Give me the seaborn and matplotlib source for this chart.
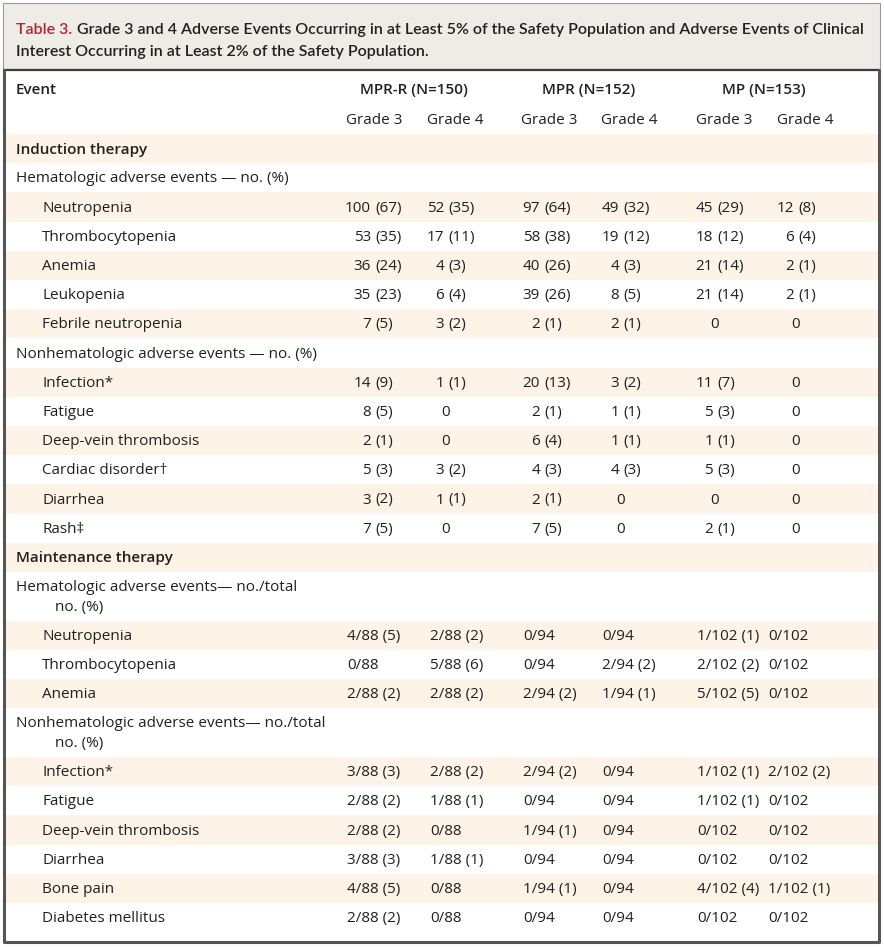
import matplotlib
matplotlib.use("Agg")
import matplotlib.pyplot as plt
from matplotlib import font_manager
import seaborn as sns

# Table content
title_tag = "Table 3."
title_lines = [
    "Grade 3 and 4 Adverse Events Occurring in at Least 5% of the Safety Population and Adverse Events of Clinical",
    "Interest Occurring in at Least 2% of the Safety Population.",
]
arms = ["MPR-R (N=150)", "MPR (N=152)", "MP (N=153)"]
grades = ["Grade 3", "Grade 4"]

sections = ["Induction therapy", "Maintenance therapy"]
induction_groups = ["Hematologic adverse events \u2014 no. (%)",
                    "Nonhematologic adverse events \u2014 no. (%)"]
maintenance_groups = [("Hematologic adverse events\u2014 no./total", "no. (%)"),
                      ("Nonhematologic adverse events\u2014 no./total", "no. (%)")]

induction_heme = ["Neutropenia", "Thrombocytopenia", "Anemia", "Leukopenia", "Febrile neutropenia"]
induction_heme_vals = [
    ["100 (67)", "52 (35)", "97 (64)", "49 (32)", "45 (29)", "12 (8)"],
    ["53 (35)", "17 (11)", "58 (38)", "19 (12)", "18 (12)", "6 (4)"],
    ["36 (24)", "4 (3)", "40 (26)", "4 (3)", "21 (14)", "2 (1)"],
    ["35 (23)", "6 (4)", "39 (26)", "8 (5)", "21 (14)", "2 (1)"],
    ["7 (5)", "3 (2)", "2 (1)", "2 (1)", "0", "0"],
]
induction_nonheme = ["Infection*", "Fatigue", "Deep-vein thrombosis", "Cardiac disorder\u2020",
                     "Diarrhea", "Rash\u2021"]
induction_nonheme_vals = [
    ["14 (9)", "1 (1)", "20 (13)", "3 (2)", "11 (7)", "0"],
    ["8 (5)", "0", "2 (1)", "1 (1)", "5 (3)", "0"],
    ["2 (1)", "0", "6 (4)", "1 (1)", "1 (1)", "0"],
    ["5 (3)", "3 (2)", "4 (3)", "4 (3)", "5 (3)", "0"],
    ["3 (2)", "1 (1)", "2 (1)", "0", "0", "0"],
    ["7 (5)", "0", "7 (5)", "0", "2 (1)", "0"],
]
maint_heme = ["Neutropenia", "Thrombocytopenia", "Anemia"]
maint_heme_vals = [
    ["4/88 (5)", "2/88 (2)", "0/94", "0/94", "1/102 (1)", "0/102"],
    ["0/88", "5/88 (6)", "0/94", "2/94 (2)", "2/102 (2)", "0/102"],
    ["2/88 (2)", "2/88 (2)", "2/94 (2)", "1/94 (1)", "5/102 (5)", "0/102"],
]
maint_nonheme = ["Infection*", "Fatigue", "Deep-vein thrombosis", "Diarrhea", "Bone pain",
                 "Diabetes mellitus"]
maint_nonheme_vals = [
    ["3/88 (3)", "2/88 (2)", "2/94 (2)", "0/94", "1/102 (1)", "2/102 (2)"],
    ["2/88 (2)", "1/88 (1)", "0/94", "0/94", "1/102 (1)", "0/102"],
    ["2/88 (2)", "0/88", "1/94 (1)", "0/94", "0/102", "0/102"],
    ["3/88 (3)", "1/88 (1)", "0/94", "0/94", "0/102", "0/102"],
    ["4/88 (5)", "0/88", "1/94 (1)", "0/94", "4/102 (4)", "1/102 (1)"],
    ["2/88 (2)", "0/88", "0/94", "0/94", "0/102", "0/102"],
]

# Layout (pixel units, figure is 884 x 947)
W, H = 884, 947
paren_x = [375, 448, 544, 623, 717, 798]      # induction cells aligned on "("
left_x = [347, 430, 523, 602, 697, 768]       # maintenance cells left aligned
grade_cx = [374, 455, 549, 629, 724, 805]
arm_cx = [414, 589, 764]
row_h = 29.2
extra_line = 19.5

ink = "#231f20"
red = "#b5212e"
shade = "#fdf3e6"
title_bg = "#efebe7"

sns.set_theme(style="white")
installed = {f.name for f in font_manager.fontManager.ttflist}
body_font = ["Open Sans", "DejaVu Sans"]
title_font = [f for f in ["Liberation Sans Narrow", "Lato", "Open Sans"] if f in installed][:1] + ["DejaVu Sans"]
plt.rcParams["font.family"] = body_font

fig = plt.figure(figsize=(W / 100, H / 100), dpi=100)
ax = fig.add_axes([0, 0, 1, 1])
ax.set_xlim(0, W)
ax.set_ylim(H, 0)
ax.axis("off")

fs = 11.0

# Build the row list: (kind, label, values, n_lines)
rows = [("section", sections[0], None, 1), ("group", induction_groups[0], None, 1)]
rows += [("item", e, v, 1) for e, v in zip(induction_heme, induction_heme_vals)]
rows += [("group", induction_groups[1], None, 1)]
rows += [("item", e, v, 1) for e, v in zip(induction_nonheme, induction_nonheme_vals)]
rows += [("section", sections[1], None, 1), ("group2", maintenance_groups[0], None, 2)]
rows += [("mitem", e, v, 1) for e, v in zip(maint_heme, maint_heme_vals)]
rows += [("group2", maintenance_groups[1], None, 2)]
rows += [("mitem", e, v, 1) for e, v in zip(maint_nonheme, maint_nonheme_vals)]

# Title box
ax.add_patch(plt.Rectangle((3, 3), 877, 66, facecolor=title_bg, edgecolor="#9a9a9a", lw=0.8))

# Rows
top = 134.0
for i, (kind, label, vals, nl) in enumerate(rows):
    h = row_h + (extra_line if nl == 2 else 0)
    if i % 2 == 0:
        ax.axhspan(top, top + h, xmin=4 / W, xmax=879 / W, color=shade, lw=0, zorder=0)
    cy = top + row_h / 2 + 1
    if kind == "section":
        ax.text(16, cy, label, fontsize=fs, weight="semibold", color=ink, va="center")
    elif kind == "group":
        ax.text(16, cy, label, fontsize=fs, color=ink, va="center")
    elif kind == "group2":
        ax.text(16, cy, label[0], fontsize=fs, color=ink, va="center")
        ax.text(55, cy + extra_line, label[1], fontsize=fs, color=ink, va="center")
    else:
        ax.text(42, cy, label, fontsize=fs, color=ink, va="center")
        for j, v in enumerate(vals):
            if kind == "mitem":
                ax.text(left_x[j], cy, v, fontsize=fs, color=ink, va="center", ha="left")
            elif " " in v:
                num, pct = v.split(" ")
                ax.text(paren_x[j] - 4, cy, num, fontsize=fs, color=ink, va="center", ha="right")
                ax.text(paren_x[j], cy, pct, fontsize=fs, color=ink, va="center", ha="left")
            else:
                ax.text(paren_x[j] - 2, cy, v, fontsize=fs, color=ink, va="center", ha="center")
    top += h

# Header rows
ax.text(16, 90, "Event", fontsize=fs, weight="semibold", color=ink, va="center")
for cx, arm in zip(arm_cx, arms):
    ax.text(cx, 90, arm, fontsize=fs, weight="semibold", color=ink, va="center", ha="center")
for k, cx in enumerate(grade_cx):
    ax.text(cx, 120, grades[k % 2], fontsize=fs, color=ink, va="center", ha="center")

# Table frame
ax.plot([3, 880], [69.5, 69.5], color="#3c3c3c", lw=1.6, solid_capstyle="butt")
ax.plot([4, 4, 879, 879], [69.5, 942, 942, 69.5], color="#555555", lw=2.2)

# Title with red tag, fit width to the reference
tfs = 12.0
renderer = fig.canvas.get_renderer()
tag = ax.text(16, 34, title_tag, fontsize=tfs, color=red, family=title_font, weight="semibold")
bb = tag.get_window_extent(renderer)
line1 = ax.text(bb.x1 + 5, 34, title_lines[0], fontsize=tfs, color=ink, family=title_font,
                weight="semibold")
lw1 = line1.get_window_extent(renderer).x1 - 16
scale = 844 / lw1
tfs *= scale
tag.set_fontsize(tfs)
bb = tag.get_window_extent(renderer)
line1.set_fontsize(tfs)
line1.set_x(bb.x1 + 5 * scale)
ax.text(16, 56, title_lines[1], fontsize=tfs, color=ink, family=title_font, weight="semibold")

fig.savefig("out.png", dpi=100)
